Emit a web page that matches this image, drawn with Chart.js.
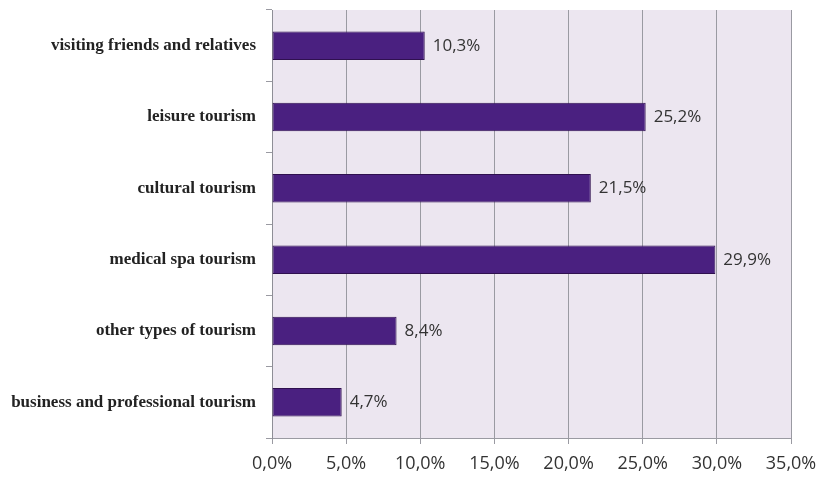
<!DOCTYPE html>
<html>
<head>
<meta charset="utf-8">
<script src="https://cdn.jsdelivr.net/npm/chart.js@4.4.1/dist/chart.umd.min.js"></script>
<style>
  html, body { margin: 0; padding: 0; background: #fff; }
  #wrap { width: 818px; height: 479px; }
</style>
</head>
<body>
<div id="wrap"><canvas id="chart" width="818" height="479"></canvas></div>
<script>
const categories = [
  'visiting friends and relatives',
  'leisure tourism',
  'cultural tourism',
  'medical spa tourism',
  'other types of tourism',
  'business and professional tourism'
];
const shares = [10.3, 25.2, 21.5, 29.9, 8.4, 4.7];
const xTicks = [0, 5, 10, 15, 20, 25, 30, 35];

const pct = v => v.toFixed(1).replace('.', ',') + '%';

// lavender fill behind the plot area
const plotBackground = {
  id: 'plotBackground',
  beforeDraw(chart) {
    const { ctx, chartArea: a } = chart;
    ctx.save();
    ctx.fillStyle = '#ece6f0';
    ctx.fillRect(a.left, a.top, a.right - a.left, a.bottom - a.top);
    ctx.restore();
  }
};

// value text right of each bar
const barValues = {
  id: 'barValues',
  afterDatasetsDraw(chart) {
    const { ctx } = chart;
    const meta = chart.getDatasetMeta(0);
    ctx.save();
    ctx.font = '17px "Open Sans"';
    ctx.fillStyle = '#333';
    ctx.textBaseline = 'middle';
    meta.data.forEach((bar, i) => {
      ctx.fillText(pct(shares[i]), bar.x + 8, bar.y);
    });
    ctx.restore();
  }
};

new Chart(document.getElementById('chart'), {
  type: 'bar',
  data: {
    labels: categories,
    datasets: [{
      data: shares,
      backgroundColor: '#4a2080',
      borderColor: '#2f104f',
      borderWidth: 1,
      borderSkipped: false,
      categoryPercentage: 1,
      barPercentage: 0.4
    }]
  },
  options: {
    indexAxis: 'y',
    responsive: false,
    animation: false,
    layout: { padding: { top: 10, right: 27, left: 0, bottom: 0 } },
    plugins: { legend: { display: false }, tooltip: { enabled: false } },
    scales: {
      x: {
        min: 0,
        max: 35,
        afterBuildTicks(axis) { axis.ticks = xTicks.map(v => ({ value: v })); },
        afterFit(axis) {
          axis.height = 41;
          axis.paddingLeft = 0;
          axis.paddingRight = 0;
        },
        grid: { color: '#9a9aa2', lineWidth: 1, tickLength: 6 },
        border: { color: '#9a9aa2' },
        ticks: {
          padding: 9,
          color: '#333',
          font: { family: '"Open Sans"', size: 18 },
          callback: v => pct(v)
        }
      },
      y: {
        afterFit(axis) {
          axis.width = 272;
          axis.paddingTop = 0;
          axis.paddingBottom = 0;
        },
        grid: { drawOnChartArea: false, tickLength: 6, color: '#9a9aa2' },
        border: { color: '#8e8e96' },
        ticks: {
          padding: 10,
          color: '#222',
          font: { family: '"Liberation Serif"', size: 17, weight: 'bold' }
        }
      }
    }
  },
  plugins: [plotBackground, barValues]
});
</script>
</body>
</html>
